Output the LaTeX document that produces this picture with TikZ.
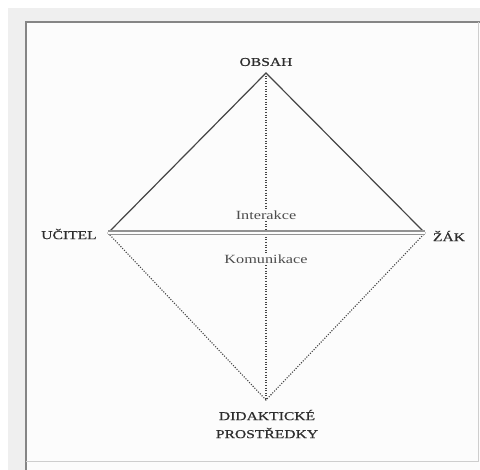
\documentclass[tikz,border=0pt]{standalone}
\usepackage{fontspec}
\setmainfont{Liberation Serif}
\newfontfamily\lblfont[FakeStretch=1.3,FakeBold=0.6]{Liberation Serif}
\newfontfamily\lowfont[FakeStretch=1.3]{Liberation Serif}
\definecolor{pagebg}{HTML}{EFEFEF}
\definecolor{inbg}{HTML}{FCFCFC}
\definecolor{framecol}{HTML}{858585}
\definecolor{linecol}{HTML}{454545}
\definecolor{dblcol}{HTML}{929292}
\definecolor{txtcol}{HTML}{2E2E2E}
\begin{document}
\begin{tikzpicture}[x=1pt,y=-1pt,
  lbl/.style={inner sep=0pt,text=txtcol,font=\lblfont\fontsize{12}{18}\selectfont,align=center},
  lowlbl/.style={inner sep=1.5pt,fill=inbg,text=txtcol!85,font=\lowfont\fontsize{12.5}{18}\selectfont},
  solidedge/.style={draw=linecol,line width=1.2pt},
  dotedge/.style={draw=linecol,line width=1.1pt,dash pattern=on 1.1pt off 1.5pt},
  dbledge/.style={draw=dblcol,line width=1.6pt,double=inbg,double distance=1.8pt}]
\useasboundingbox (0,0) rectangle (480,470);
\fill[white] (0,0) rectangle (480,470);
\fill[pagebg] (8,8) rectangle (480,470);
\fill[inbg] (26,22) rectangle (480,470);
\draw[framecol,line width=1.6pt] (26,470) -- (26,22) -- (480,22);
\draw[framecol!40,line width=0.8pt] (26,461) -- (478,461) -- (478,22);
% vertices
\coordinate (top) at (266,73);
\coordinate (left) at (108,233);
\coordinate (right) at (425,233);
\coordinate (bottom) at (266,400);
% edges
\path[dotedge] (top) -- (bottom);
\path[solidedge] (left) -- (top) -- (right);
\path[dotedge] (left) -- (bottom) -- (right);
\path[dbledge] (left) -- (right);
% labels
\node[lbl] (obsah) at (266,62) {OBSAH};
\node[lbl] (ucitel) at (69,234) {UČITEL};
\node[lbl] (zak) at (449,236) {ŽÁK};
\node[lbl] (prostr) at (267,424) {DIDAKTICKÉ\\PROSTŘEDKY};
\node[lowlbl] (inter) at (266,215) {Interakce};
\node[lowlbl] (komun) at (266,259) {Komunikace};
\end{tikzpicture}
\end{document}
